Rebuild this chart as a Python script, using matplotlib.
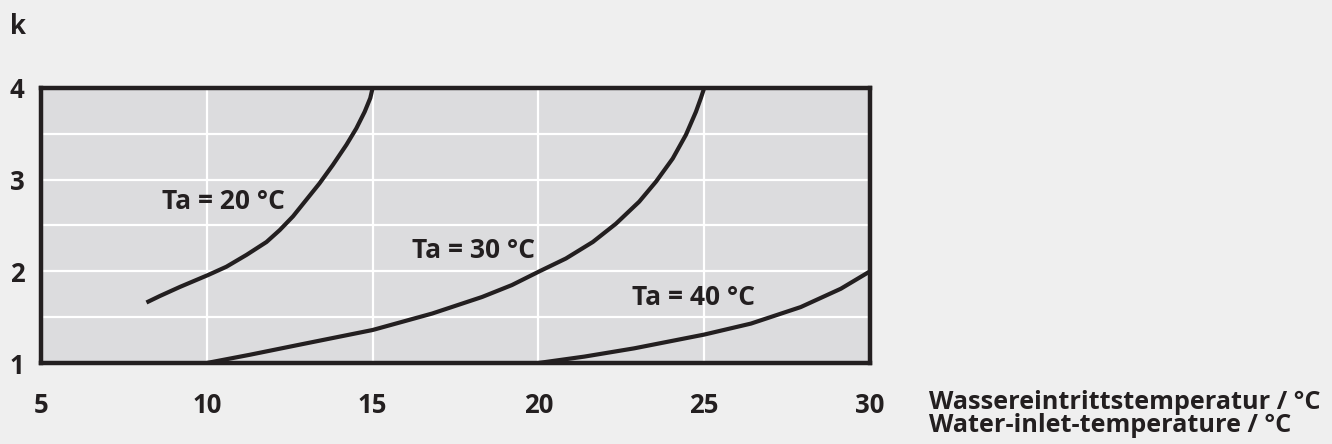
import matplotlib.pyplot as plt

# water inlet temperature (°C) vs. factor k, one curve per ambient temperature Ta
x20 = [8.18, 8.58, 9.19, 10.04, 10.59, 11.2, 11.8, 12.2, 12.6, 13.0, 13.4, 13.8, 14.21, 14.51, 14.76, 14.93, 15.0]
k20 = [1.66, 1.73, 1.83, 1.96, 2.05, 2.18, 2.32, 2.45, 2.60, 2.78, 2.96, 3.16, 3.38, 3.56, 3.74, 3.89, 4.0]

x30 = [10.0, 11.3, 12.8, 15.0, 16.8, 18.3, 19.2, 20.03, 20.83, 21.64, 22.34, 23.04, 23.55, 24.05,
       24.45, 24.75, 24.9, 25.0]
k30 = [1.0, 1.09, 1.20, 1.36, 1.54, 1.72, 1.85, 2.0, 2.14, 2.32, 2.52, 2.76, 2.98, 3.23,
       3.49, 3.74, 3.89, 4.0]

x40 = [20.0, 21.39, 22.89, 25.0, 26.41, 27.91, 29.12, 30.0]
k40 = [1.0, 1.07, 1.16, 1.31, 1.43, 1.61, 1.81, 2.0]

labels = ["Ta = 20 °C", "Ta = 30 °C", "Ta = 40 °C"]
xticks = [5, 10, 15, 20, 25, 30]
yticks = [1, 2, 3, 4]

plt.rcParams['font.family'] = ['Open Sans', 'DejaVu Sans']
plt.rcParams['font.weight'] = 'bold'
txt = '#231f20'

fig = plt.figure(figsize=(13.32, 4.44), dpi=100, facecolor='#efefef')
ax = fig.add_axes([41/1332, 1 - 363/444, (870 - 41)/1332, (363 - 88)/444])
ax.set_facecolor('#dcdcde')

for xs, ks in [(x20, k20), (x30, k30), (x40, k40)]:
    ax.plot(xs, ks, color=txt, lw=3, solid_capstyle='butt', solid_joinstyle='round', zorder=3)

ax.text(8.64, 2.76, labels[0], fontsize=19, fontweight='bold', color=txt, va='center')
ax.text(16.2, 2.23, labels[1], fontsize=19, fontweight='bold', color=txt, va='center')
ax.text(22.83, 1.72, labels[2], fontsize=19, fontweight='bold', color=txt, va='center')

ax.set_xlim(5, 30)
ax.set_ylim(1, 4)
ax.set_xticks(xticks)
ax.set_yticks(yticks)
ax.set_yticks([1.5, 2.5, 3.5], minor=True)
ax.grid(True, which='both', color='white', lw=1.6, zorder=1)
ax.set_axisbelow(True)
ax.tick_params(which='both', length=0)
ax.tick_params(axis='x', pad=21, labelsize=18.5, labelcolor=txt)
ax.tick_params(axis='y', pad=12, labelsize=18.5, labelcolor=txt)
for s in ax.spines.values():
    s.set_linewidth(3.2)
    s.set_color(txt)

fig.text(18/1332, 1 - 27/444, 'k', fontsize=18.5, fontweight='bold', color=txt, va='center', ha='center')
fig.text(929/1332, 1 - 414/444, 'Wassereintrittstemperatur / °C\nWater-inlet-temperature / °C',
         fontsize=18.2, fontweight='bold', color=txt, va='center', ha='left', linespacing=0.9)

fig.savefig('out.png', dpi=100, facecolor=fig.get_facecolor())
